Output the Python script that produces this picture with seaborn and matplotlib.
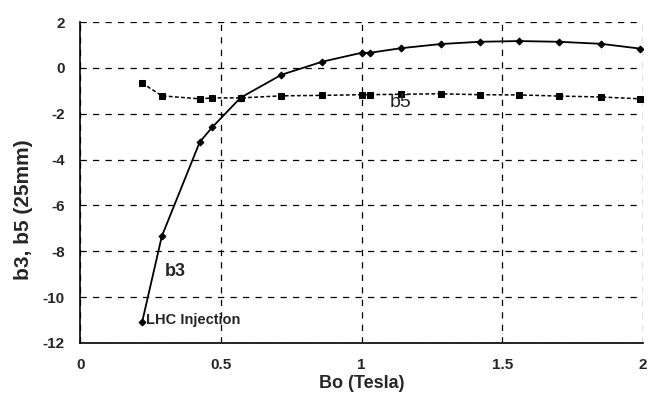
import pandas as pd
import seaborn as sns
import matplotlib.pyplot as plt

# field values (Tesla) shared by both harmonics
bo = [0.22, 0.29, 0.425, 0.47, 0.57, 0.715, 0.86, 1.0, 1.03, 1.14, 1.28, 1.42, 1.56, 1.70, 1.85, 1.99]
b3 = [-11.1, -7.35, -3.23, -2.58, -1.3, -0.3, 0.27, 0.66, 0.66, 0.86, 1.04, 1.14, 1.17, 1.14, 1.05, 0.84]
b5 = [-0.66, -1.22, -1.35, -1.31, -1.31, -1.22, -1.2, -1.17, -1.17, -1.15, -1.13, -1.17, -1.18, -1.23, -1.27, -1.35]

df = pd.DataFrame({'Bo': bo, 'b3': b3, 'b5': b5})

sns.set_style('white')
plt.rcParams['font.family'] = ['Liberation Sans', 'DejaVu Sans']
plt.rcParams['axes.unicode_minus'] = False

fig = plt.figure(figsize=(6.57, 4.01), dpi=100)
ax = fig.add_axes([0.122, 0.145, 0.857, 0.80])

sns.lineplot(data=df, x='Bo', y='b3', ax=ax, color='black', lw=1.3,
             marker='D', markersize=3.5, markeredgecolor='black')
sns.lineplot(data=df, x='Bo', y='b5', ax=ax, color='black', lw=1.1,
             linestyle=(0, (2.5, 1.5)), marker='s', markersize=4.5, markeredgecolor='black')

ax.set_xlim(0, 2)
ax.set_ylim(-12, 2)
ax.set_xticks([0, 0.5, 1, 1.5, 2])
ax.set_xticklabels(['0', '0.5', '1', '1.5', '2'])
ax.set_yticks(range(-12, 3, 2))

ax.grid(True, color='black', linestyle=(0, (5, 5)), lw=0.9)
for s in ['top', 'right']:
    ax.spines[s].set_visible(False)
for s in ['left', 'bottom']:
    ax.spines[s].set_color('black')
    ax.spines[s].set_linewidth(1.2)
ax.tick_params(axis='both', direction='out', length=3, width=1, color='black',
               labelsize=11, pad=8)
for lab in ax.get_xticklabels() + ax.get_yticklabels():
    lab.set_fontweight('bold')

ax.set_xlabel('Bo (Tesla)', fontsize=13, fontweight='bold', labelpad=2)
ax.set_ylabel('b3, b5 (25mm)', fontsize=15, fontweight='bold')
ax.yaxis.set_label_coords(-0.083, 0.414)

ax.text(1.1, -1.5, 'b5', fontsize=14, va='center', ha='left')
ax.text(0.3, -8.9, 'b3', fontsize=13, fontweight='bold', va='center', ha='left')
ax.text(0.235, -11.0, 'LHC Injection', fontsize=10.5, fontweight='bold', va='center', ha='left')

fig.savefig('out.png', dpi=100)
